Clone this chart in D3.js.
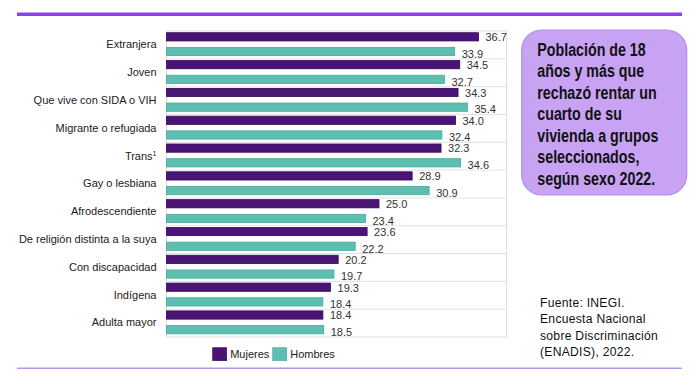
<!DOCTYPE html>
<html>
<head>
<meta charset="utf-8">
<script src="https://cdn.jsdelivr.net/npm/d3@7"></script>
<style>
  html, body { margin: 0; padding: 0; background: #fff; }
  svg { display: block; }
</style>
</head>
<body>
<svg id="chart" width="700" height="390"></svg>
<script>
const categories = ["Extranjera", "Joven", "Que vive con SIDA o VIH", "Migrante o refugiada", "Trans", "Gay o lesbiana", "Afrodescendiente", "De religión distinta a la suya", "Con discapacidad", "Indígena", "Adulta mayor"];
const mujeres = [36.7, 34.5, 34.3, 34.0, 32.3, 28.9, 25.0, 23.6, 20.2, 19.3, 18.4];
const hombres = [33.9, 32.7, 35.4, 32.4, 34.6, 30.9, 23.4, 22.2, 19.7, 18.4, 18.5];
const seriesNames = ["Mujeres", "Hombres"];
const seriesColors = ["#4a1477", "#5cbfb2"];
const seriesStroke = ["#2f0b55", "#4aa99c"];
const titleLines = ["Población de 18", "años y más que", "rechazó rentar un", "cuarto de su", "vivienda a grupos", "seleccionados,", "según sexo 2022."];
const sourceLines = ["Fuente: INEGI.", "Encuesta Nacional", "sobre Discriminación", "(ENADIS), 2022."];

const svg = d3.select("#chart");
const plot = {left: 166.5, right: 506.5, top: 31, bottom: 337};

const x = d3.scaleLinear().domain([0, 40]).range([plot.left, plot.right]);
const y = d3.scaleBand().domain(categories).range([plot.top, plot.bottom]).padding(0);
const ySub = d3.scaleBand().domain(seriesNames).range([0, y.bandwidth()])
  .paddingInner(0.44).paddingOuter(0.167).align(0.35);

// decorative rules
svg.append("line").attr("x1", 17).attr("x2", 682).attr("y1", 14.3).attr("y2", 14.3)
  .attr("stroke", "#8a43e4").attr("stroke-width", 3.5);
svg.append("line").attr("x1", 17).attr("x2", 682).attr("y1", 368.3).attr("y2", 368.3)
  .attr("stroke", "#b995ec").attr("stroke-width", 1.5);

// plot frame and separators
svg.append("rect").attr("x", plot.left).attr("y", plot.top)
  .attr("width", plot.right - plot.left).attr("height", plot.bottom - plot.top)
  .attr("fill", "none").attr("stroke", "#dedede").attr("stroke-width", 1);
svg.append("g").selectAll("line").data(categories.slice(1)).join("line")
  .attr("x1", plot.left).attr("x2", plot.right)
  .attr("y1", d => y(d)).attr("y2", d => y(d))
  .attr("stroke", "#e2e2e2").attr("stroke-width", 1);

const rows = categories.map((c, i) => ({cat: c, vals: [mujeres[i], hombres[i]]}));

const g = svg.append("g").selectAll("g").data(rows).join("g")
  .attr("transform", d => `translate(0,${y(d.cat)})`);

g.selectAll("rect").data(d => d.vals.map((v, j) => ({v, s: seriesNames[j], j}))).join("rect")
  .attr("x", x(0))
  .attr("y", d => ySub(d.s))
  .attr("width", d => x(d.v) - x(0))
  .attr("height", ySub.bandwidth())
  .attr("fill", d => seriesColors[d.j])
  .attr("stroke", d => seriesStroke[d.j])
  .attr("stroke-width", 0.8);

g.selectAll("text.val").data(d => d.vals.map((v, j) => ({v, s: seriesNames[j], j}))).join("text")
  .attr("class", "val")
  .attr("x", d => x(d.v) + 7)
  .attr("y", d => ySub(d.s) + ySub.bandwidth() / 2 + (d.j === 1 ? 2.5 : 0.5))
  .attr("dy", "0.35em")
  .attr("font-family", "Liberation Sans, Arial, sans-serif")
  .attr("font-size", 11)
  .attr("fill", "#333")
  .text(d => d3.format(".1f")(d.v));

// category labels
const catText = svg.append("g").selectAll("text").data(categories).join("text")
  .attr("x", 156.5)
  .attr("y", d => y(d) + y.bandwidth() / 2 - 0.5)
  .attr("dy", "0.35em")
  .attr("text-anchor", "end")
  .attr("font-family", "Liberation Sans, Arial, sans-serif")
  .attr("font-size", 11)
  .attr("fill", "#1a1a1a");
catText.each(function(d) {
  const t = d3.select(this);
  if (d === "Trans") {
    t.append("tspan").text("Trans");
    t.append("tspan").attr("font-size", 7).attr("dy", "-4").text("1");
  } else {
    t.text(d);
  }
});

// legend
const legend = svg.append("g");
const legX = [212.7, 272.7];
seriesNames.forEach((s, i) => {
  legend.append("rect").attr("x", legX[i]).attr("y", 347.7).attr("width", 14).attr("height", 13)
    .attr("fill", seriesColors[i]).attr("stroke", seriesStroke[i]).attr("stroke-width", 0.6);
  legend.append("text").attr("x", legX[i] + 17.5).attr("y", 358.3)
    .attr("font-family", "Liberation Sans, Arial, sans-serif").attr("font-size", 11)
    .attr("fill", "#1a1a1a").text(s);
});

// title box
svg.append("rect").attr("x", 521.7).attr("y", 30).attr("width", 165).attr("height", 165)
  .attr("rx", 20).attr("ry", 20)
  .attr("fill", "#c8a3f4").attr("stroke", "#b58ce9").attr("stroke-width", 1.2);
const tt = svg.append("g").attr("transform", "translate(537.3,0) scale(0.77,1)");
tt.selectAll("text").data(titleLines).join("text")
  .attr("x", 0)
  .attr("y", (d, i) => 56 + i * 21.5)
  .attr("font-family", "Liberation Sans, Arial, sans-serif")
  .attr("font-weight", "bold")
  .attr("font-size", 18.5)
  .attr("fill", "#111")
  .text(d => d);

// source
const st = svg.append("g").attr("transform", "translate(540,0) scale(0.9,1)");
st.selectAll("text").data(sourceLines).join("text")
  .attr("x", 0)
  .attr("y", (d, i) => 306.7 + i * 16.6)
  .attr("font-family", "Liberation Sans, Arial, sans-serif")
  .attr("font-size", 13.5)
  .attr("letter-spacing", 0.3)
  .attr("fill", "#111")
  .text(d => d);
</script>
</body>
</html>
